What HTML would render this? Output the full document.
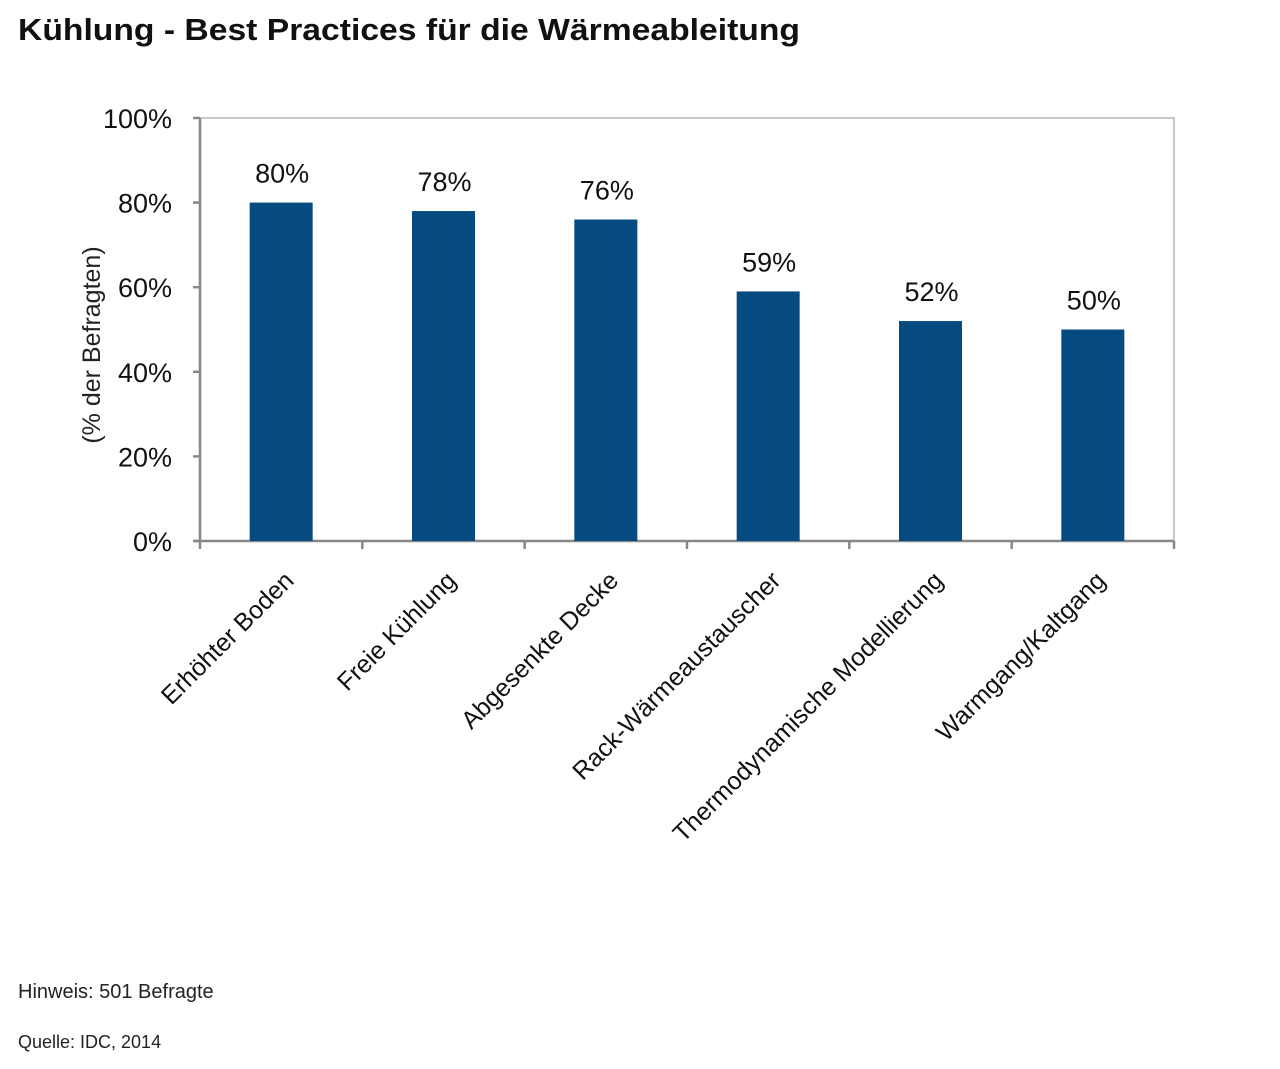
<!DOCTYPE html>
<html><head><meta charset="utf-8"><style>
html,body{margin:0;padding:0;background:#fff;}
svg{display:block;font-family:"Liberation Sans","DejaVu Sans",sans-serif;}
</style></head><body>
<svg id="chart" width="1280" height="1069" viewBox="0 0 1280 1069">
<text x="18" y="40" font-size="31" font-weight="bold" fill="#111" textLength="782" lengthAdjust="spacingAndGlyphs">Kühlung - Best Practices für die Wärmeableitung</text>
<rect x="200" y="118" width="974" height="423" fill="none" stroke="#c8c8c8" stroke-width="2"/>
<g id="yaxis"></g>
<g id="xaxis"></g>
<g id="bars"></g>
<text transform="translate(100,345) rotate(-90)" text-anchor="middle" font-size="25" fill="#222">(% der Befragten)</text>
<text x="18" y="998" font-size="20" fill="#222">Hinweis: 501 Befragte</text>
<text x="18" y="1048" font-size="18" fill="#222">Quelle: IDC, 2014</text>
</svg>
<script>
const categories = ["Erhöhter Boden","Freie Kühlung","Abgesenkte Decke","Rack-Wärmeaustauscher","Thermodynamische Modellierung","Warmgang/Kaltgang"];
const values = [80,78,76,59,52,50];
const yTicks = [0,20,40,60,80,100];
const yTickLabels = ["0%","20%","40%","60%","80%","100%"];

const NS = "http://www.w3.org/2000/svg";
const x0 = 200, x1 = 1174, yBottom = 541, yTop = 118;
const slot = (x1 - x0) / categories.length;
const barW = 63;
function yScale(v){ return yBottom - (v/100)*(yBottom - yTop); }
function xCenter(i){ return x0 + slot*(i+0.5); }
function mk(tag, attrs, parent){ const e=document.createElementNS(NS,tag); for(const k in attrs) e.setAttribute(k,attrs[k]); parent.appendChild(e); return e; }

const yax = document.getElementById('yaxis');
const xax = document.getElementById('xaxis');
const bars = document.getElementById('bars');

const yl = mk('line',{x1:x0,y1:yTop,x2:x0,y2:yBottom,stroke:'#888','stroke-width':2.5},yax);


yTicks.forEach((t,i)=>{
  const y = yScale(t);
  const tk = mk('line',{x1:x0-7,y1:y,x2:x0,y2:y,stroke:'#888','stroke-width':2.5},yax);
  
  
  const lb = mk('text',{x:172,y:y+10,'text-anchor':'end','font-size':27,fill:'#111'},yax);
  lb.textContent = yTickLabels[i];
  
  
});

const xl = mk('line',{x1:x0-7,y1:yBottom,x2:x1,y2:yBottom,stroke:'#888','stroke-width':2.5},xax);


for(let i=0;i<=categories.length;i++){
  const x = x0 + slot*i;
  const tk = mk('line',{x1:x,y1:yBottom,x2:x,y2:yBottom+8,stroke:'#888','stroke-width':2.5},xax);
  
  
}

categories.forEach((c,i)=>{
  const cx = xCenter(i);
  const y = yScale(values[i]);
  const r = mk('rect',{x:cx-barW/2,y:y,width:barW,height:yBottom-y,fill:'#064b80'},bars);
  
  
  const v = mk('text',{x:cx+1,y:y-20,'text-anchor':'middle','font-size':27,fill:'#111'},bars);
  v.textContent = values[i]+'%';
  
  
  const lx = cx+14, ly = 582;
  const t = mk('text',{x:lx,y:ly,'text-anchor':'end','font-size':25,fill:'#111',transform:'rotate(-45 '+lx+' '+ly+')'},xax);
  t.textContent = c;
  
  
});
</script>
</body></html>
